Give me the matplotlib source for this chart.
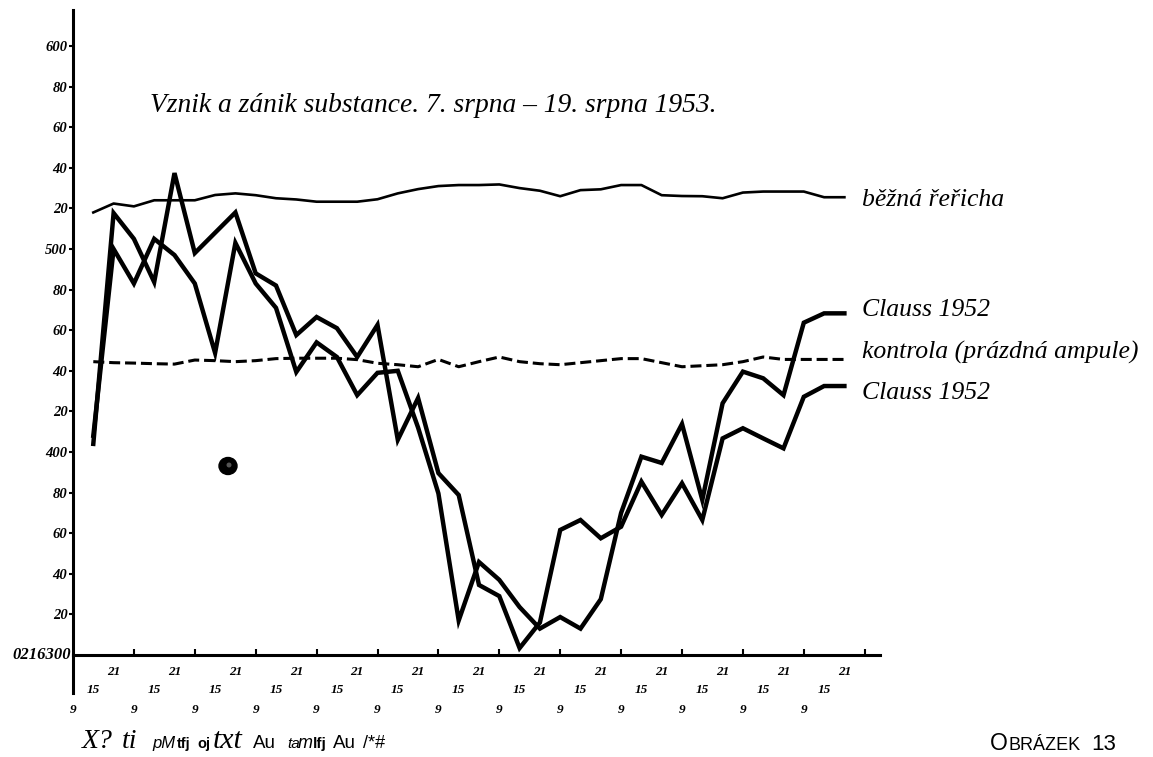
import matplotlib
matplotlib.use("Agg")
import matplotlib.pyplot as plt
from matplotlib.patches import Ellipse
from matplotlib.lines import Line2D

# ---------------- data ----------------
title = "Vznik a zánik substance. 7. srpna – 19. srpna 1953."
label_bezna = "běžná řeřicha"
label_clauss = "Clauss 1952"
label_kontrola = "kontrola (prázdná ampule)"
figure_caption = "OBRÁZEK 13"

# measurements three times a day (9, 15, 21 h), 7.-19. August; slot 0 = 7.8. 9 h
days = 13
hour_labels = ["9", "15", "21"]
slots = list(range(1, 39))

bezna = [518, 522.4, 521, 524, 524, 524, 526.6, 527.4, 526.5, 525,
         524.4, 523.3, 523.3, 523.3, 524.5, 527.4, 529.5, 531, 531.5, 531.5,
         531.8, 530, 528.7, 526, 529, 529.4, 531.5, 531.5, 526.5, 526.1,
         526, 525, 527.8, 528.3, 528.3, 528.3, 525.5, 525.5]

clauss_upper = [408, 500, 483, 505, 497, 483, 448.8, 503, 483, 471,
                439.4, 454, 446.8, 428, 439, 440, 412, 379.6, 317, 345.8,
                337, 323.6, 313, 318.7, 313, 327.5, 370, 397.7, 394.6, 413.8,
                376.4, 424, 439.6, 436.3, 428, 463.7, 468.3, 468.3]

kontrola = [444.5, 444, 443.8, 443.5, 443.3, 445.3, 445, 444.5, 445, 446,
            446.2, 446.2, 446.2, 445.5, 443.7, 443, 442, 445.6, 442, 444.5,
            446.8, 444.5, 443.5, 443, 444, 445, 446, 446, 444, 442,
            442.5, 443, 444.5, 446.8, 445.6, 445.6, 445.6, 445.6]

clauss_lower = [404, 517.7, 505, 483.7, 537.4, 498, 508, 518, 488, 482,
                457.6, 466.5, 461, 446.8, 462.6, 406, 426.6, 389.6, 378.8, 334.5,
                329, 303.4, 316, 361.6, 366.5, 357.5, 363.2, 385.4, 369, 384.6,
                366.5, 406.7, 411.7, 406.7, 401.8, 427.2, 432.5, 432.5]

ytick_values = [320, 340, 360, 380, 400, 420, 440, 460, 480, 500,
                520, 540, 560, 580, 600]
ytick_labels = ["20", "40", "60", "80", "400", "20", "40", "60", "80", "500",
                "20", "40", "60", "80", "600"]
origin_label = "0216300"
footer_fragments = [("X?", 82), ("ti", 122), ("pM", 152), ("tfj", 177), ("oj", 197),
                    ("txt", 213), ("Au", 253), ("ta", 287), ("m", 298), ("lfj", 313),
                    ("Au", 333), ("/*#", 363)]

# ---------------- figure ----------------
W, H, DPI = 1153, 757, 100
fig = plt.figure(figsize=(W / DPI, H / DPI), dpi=DPI)
fig.patch.set_facecolor("white")

def fx(px):
    return px / W

def fy(py):
    return 1 - py / H

ax_left, ax_right, ax_top, ax_bottom = 73, 880, 10, 655
ax = fig.add_axes([fx(ax_left), fy(ax_bottom), (ax_right - ax_left) / W, (ax_bottom - ax_top) / H])
px_per_slot = 20.3
px_per_unit = 2.03
ax.set_xlim(0, (ax_right - ax_left) / px_per_slot)
ax.set_ylim(300, 300 + (ax_bottom - ax_top) / px_per_unit)

for s in ["top", "right"]:
    ax.spines[s].set_visible(False)
for s in ["left", "bottom"]:
    ax.spines[s].set_linewidth(2.2)
    ax.spines[s].set_color("black")

# extension of the vertical axis below the horizontal one
ax.add_line(Line2D([0, 0], [0, -(693 - ax_bottom) / (ax_bottom - ax_top)], transform=ax.transAxes,
                   color="black", lw=2.2, clip_on=False))

serif = "Liberation Serif"
sans = "Liberation Sans"

# lines
ax.plot(slots, bezna, color="black", lw=1.9, solid_joinstyle="round", clip_on=False)
ax.plot(slots, kontrola, color="black", lw=2.2, linestyle=(0, (3.6, 1.6)), clip_on=False)
ax.plot(slots, clauss_upper, color="black", lw=3.2, solid_joinstyle="miter", clip_on=False)
ax.plot(slots, clauss_lower, color="black", lw=3.2, solid_joinstyle="miter", clip_on=False)

# y ticks
ax.set_yticks(ytick_values)
ax.set_yticklabels(ytick_labels, fontfamily=serif, fontstyle="italic", fontweight="bold", fontsize=10.5)
ax.tick_params(axis="y", direction="out", length=3, width=1.5, pad=1)
ax.text(-0.003, 300, origin_label, transform=ax.get_yaxis_transform(), ha="right", va="center",
        fontfamily=serif, fontstyle="italic", fontweight="bold", fontsize=12)

# x ticks at day boundaries
ax.set_xticks([3 * d for d in range(1, days + 1)])
ax.set_xticklabels([])
ax.tick_params(axis="x", direction="in", length=4, width=1.5)

row_px = {"9": 710, "15": 690, "21": 672}
for d in range(days):
    for j, h in enumerate(hour_labels):
        yax = (ax_bottom - row_px[h]) / (ax_bottom - ax_top)
        ax.text(3 * d + j, yax, h, transform=ax.get_xaxis_transform(), ha="center", va="center",
                fontfamily=serif, fontstyle="italic", fontweight="bold", fontsize=9.5, clip_on=False)

# title and line labels
fig.text(fx(150), fy(105), title, ha="left", va="center", fontfamily=serif, fontstyle="italic", fontsize=19.8)
lab_x = fx(862)
for txt, py in [(label_bezna, 200), (label_clauss, 310), (label_kontrola, 352), (label_clauss, 393)]:
    fig.text(lab_x, fy(py), txt, ha="left", va="center", fontfamily=serif, fontstyle="italic", fontsize=18.5)

# blot
fig.add_artist(Ellipse((fx(228), fy(466)), 18 / W, 17 / H, transform=fig.transFigure,
                       facecolor="black", edgecolor="black"))
fig.add_artist(Ellipse((fx(229), fy(465)), 5 / W, 5 / H, transform=fig.transFigure,
                       facecolor="#555555", edgecolor="none"))

# footer (garbled caption line)
styles = {
    "X?": dict(fontfamily=serif, fontstyle="italic", fontsize=20),
    "ti": dict(fontfamily=serif, fontstyle="italic", fontsize=20),
    "pM": dict(fontfamily=sans, fontstyle="italic", fontsize=12),
    "tfj": dict(fontfamily=sans, fontweight="bold", fontsize=10.5),
    "oj": dict(fontfamily=sans, fontweight="bold", fontsize=10.5),
    "txt": dict(fontfamily=serif, fontstyle="italic", fontsize=21.5),
    "Au": dict(fontfamily=sans, fontsize=13.5),
    "ta": dict(fontfamily=sans, fontstyle="italic", fontsize=11),
    "m": dict(fontfamily=sans, fontstyle="italic", fontsize=13),
    "lfj": dict(fontfamily=sans, fontweight="bold", fontsize=11),
    "/*#": dict(fontfamily=sans, fontsize=13),
}
for txt, px in footer_fragments:
    fig.text(fx(px), fy(748), txt, ha="left", va="baseline", **styles[txt])

# figure caption with small caps
fig.text(fx(990), fy(750), figure_caption[0], ha="left", va="baseline", fontfamily=sans, fontsize=16.5)
fig.text(fx(1008), fy(750), figure_caption[1:7], ha="left", va="baseline", fontfamily=sans, fontsize=13)
fig.text(fx(1091), fy(750), figure_caption[8:], ha="left", va="baseline", fontfamily=sans, fontsize=16)

fig.savefig("out.png", dpi=DPI, facecolor="white")
